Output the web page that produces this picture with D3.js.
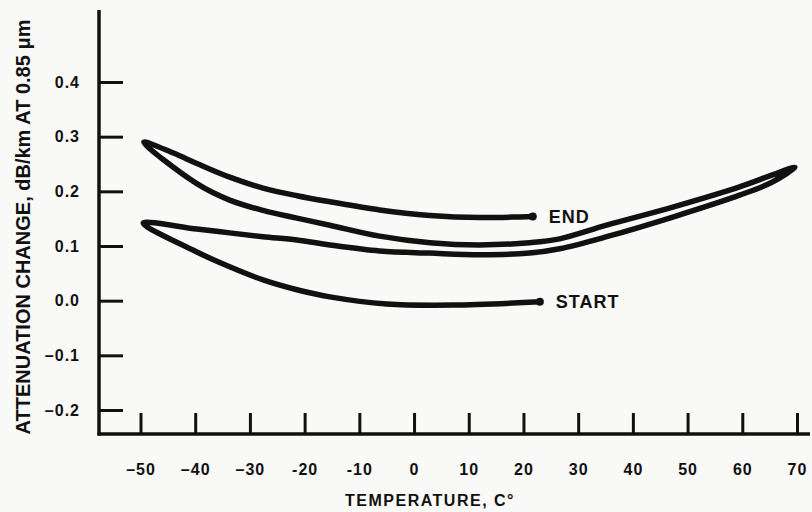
<!DOCTYPE html>
<html>
<head>
<meta charset="utf-8">
<script src="https://cdn.jsdelivr.net/npm/d3@7"></script>
<style>
  body { margin: 0; background: #f9f9f7; }
  svg { display: block; }
  text { font-family: "Liberation Sans", Arial, Helvetica, sans-serif; font-weight: bold; fill: #111; }
</style>
</head>
<body>
<div id="chart"></div>
<script>
// tick values and labels
var xTicks = [-50, -40, -30, -20, -10, 0, 10, 20, 30, 40, 50, 60, 70];
var xTickLabels = ["\u201350", "\u201340", "\u201330", "-20", "-10", "0", "10", "20", "30", "40", "50", "60", "70"];
var yTicks = [-0.2, -0.1, 0.0, 0.1, 0.2, 0.3, 0.4];
var yTickLabels = ["\u20130.2", "\u20130.1", "0.0", "0.1", "0.2", "0.3", "0.4"];

// one continuous trace: START -> cold -> hot -> cold -> END
var tempC = [23.0, 7.1, -5.0, -15.4, -21.4, -27.6, -33.7, -39.7, -49.5,
             -39.7, -33.7, -27.6, -21.4, -15.4, -6.3, 2.9, 12.0, 21.1, 26.6, 35.2, 47.3, 59.5, 65.5, 69.6,
             65.5, 59.5, 47.3, 35.2, 26.6, 21.1, 12.0, 2.9, -6.3, -15.4, -21.4, -27.6, -33.7, -39.7, -49.4,
             -44.0, -39.7, -33.7, -27.6, -21.4, -15.4, -6.3, 2.9, 12.0, 21.7];
var attenChange = [-0.002, -0.008, -0.006, 0.007, 0.020, 0.038, 0.062, 0.089, 0.142,
                   0.131, 0.124, 0.117, 0.111, 0.102, 0.091, 0.087, 0.084, 0.087, 0.095, 0.117, 0.153, 0.193, 0.217, 0.244,
                   0.230, 0.208, 0.171, 0.138, 0.113, 0.106, 0.102, 0.106, 0.118, 0.138, 0.151, 0.165, 0.184, 0.214, 0.290,
                   0.270, 0.251, 0.226, 0.206, 0.192, 0.181, 0.166, 0.156, 0.152, 0.154];

var endLabels = ["START", "END"];

var svgWidth = 812;
var svgHeight = 512;

var svg = d3.select("#chart").append("svg")
            .attr("width", svgWidth)
            .attr("height", svgHeight);

var xScale = d3.scaleLinear().domain([-50, 70]).range([140.5, 797]);
var yScale = d3.scaleLinear().domain([-0.2, 0.4]).range([410, 82]);

var axisX = 99, axisY = 434;

// axis lines
svg.append("line")
   .attr("x1", axisX).attr("x2", axisX)
   .attr("y1", 10).attr("y2", axisY + 1.5)
   .attr("stroke", "#111").attr("stroke-width", 3.5);
svg.append("line")
   .attr("x1", axisX - 1.5).attr("x2", 810)
   .attr("y1", axisY).attr("y2", axisY)
   .attr("stroke", "#111").attr("stroke-width", 3.5);

var bottomAxis = d3.axisBottom(xScale)
                   .tickValues(xTicks)
                   .tickFormat((d, i) => xTickLabels[i])
                   .tickSizeInner(-21)
                   .tickSizeOuter(0)
                   .tickPadding(30);

var leftAxis = d3.axisLeft(yScale)
                 .tickValues(yTicks)
                 .tickFormat((d, i) => yTickLabels[i])
                 .tickSizeInner(-24)
                 .tickSizeOuter(0)
                 .tickPadding(19);

var gx = svg.append("g")
            .attr("transform", `translate(0,${axisY})`)
            .call(bottomAxis);
var gy = svg.append("g")
            .attr("transform", `translate(${axisX},0)`)
            .call(leftAxis);

[gx, gy].forEach(g => {
  g.select(".domain").remove();
  g.selectAll(".tick line").attr("stroke", "#111").attr("stroke-width", 3);
  g.selectAll(".tick text")
   .attr("font-family", "'Liberation Sans', Arial, sans-serif")
   .attr("font-weight", "bold")
   .attr("font-size", 16)
   .attr("letter-spacing", 1)
   .attr("fill", "#111");
});

// axis titles
svg.append("text")
   .attr("transform", "translate(30,227) rotate(-90)")
   .attr("text-anchor", "middle")
   .attr("font-size", 20)
   .text("ATTENUATION CHANGE, dB/km AT 0.85 \u03bcm");

svg.append("text")
   .attr("x", 430)
   .attr("y", 506)
   .attr("text-anchor", "middle")
   .attr("font-size", 16)
   .attr("letter-spacing", 1.5)
   .text("TEMPERATURE, C\u00b0");

// the trace
var pts = tempC.map((t, i) => [t, attenChange[i]]);

var line = d3.line()
             .x(d => xScale(d[0]))
             .y(d => yScale(d[1]))
             .curve(d3.curveCatmullRom.alpha(0.5));

svg.append("path")
   .datum(pts)
   .attr("d", line)
   .attr("fill", "none")
   .attr("stroke", "#111")
   .attr("stroke-width", 5.5)
   .attr("stroke-linecap", "round")
   .attr("stroke-linejoin", "round");

// start / end dots and labels
var ends = [pts[0], pts[pts.length - 1]];
svg.selectAll("circle.endpt")
   .data(ends)
   .enter()
   .append("circle")
   .attr("class", "endpt")
   .attr("cx", d => xScale(d[0]))
   .attr("cy", d => yScale(d[1]))
   .attr("r", 4)
   .attr("fill", "#111");

svg.selectAll("text.endlbl")
   .data(ends)
   .enter()
   .append("text")
   .attr("class", "endlbl")
   .attr("x", d => xScale(d[0]) + 16)
   .attr("y", d => yScale(d[1]) + 6.5)
   .attr("font-size", 18)
   .attr("letter-spacing", 1)
   .text((d, i) => endLabels[i]);
</script>
</body>
</html>
